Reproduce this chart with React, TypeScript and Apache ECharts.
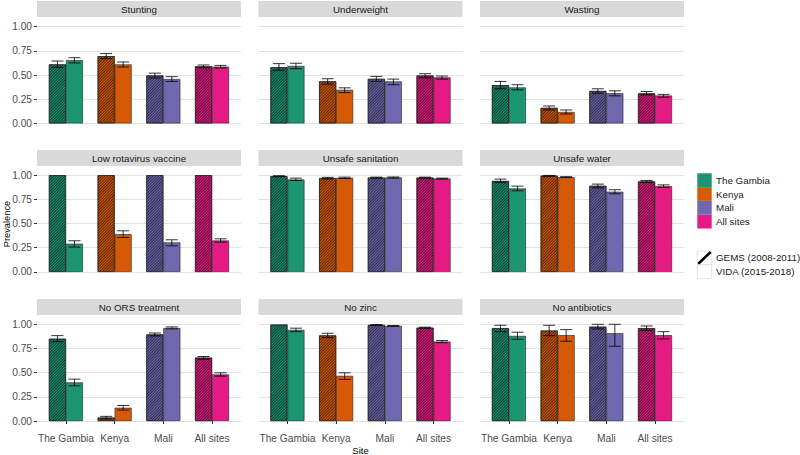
import React, { useEffect, useRef } from "react";
import * as echarts from "echarts";

const sites = ["The Gambia", "Kenya", "Mali", "All sites"];
const panels = [
  "Stunting", "Underweight", "Wasting",
  "Low rotavirus vaccine", "Unsafe sanitation", "Unsafe water",
  "No ORS treatment", "No zinc", "No antibiotics",
];
const siteColors = ["#1B9671", "#D65A06", "#6F68AF", "#E51A85"];
const studies = ["GEMS (2008-2011)", "VIDA (2015-2018)"];

const gemsPrev = [
  [0.61, 0.695, 0.495, 0.59],
  [0.58, 0.435, 0.46, 0.495],
  [0.395, 0.16, 0.335, 0.31],
  [1, 1, 1, 1],
  [0.99, 0.97, 0.975, 0.975],
  [0.94, 0.995, 0.89, 0.935],
  [0.85, 0.035, 0.895, 0.655],
  [0.997, 0.885, 0.993, 0.965],
  [0.96, 0.935, 0.975, 0.96],
];
const gemsLo = [
  [0.58, 0.67, 0.47, 0.576],
  [0.549, 0.406, 0.434, 0.472],
  [0.358, 0.139, 0.3125, 0.295],
  [null, null, null, null],
  [0.985, 0.962, 0.97, 0.97],
  [0.925, 0.99, 0.87, 0.925],
  [0.82, 0.02, 0.88, 0.639],
  [null, 0.862, 0.99, 0.96],
  [0.924, 0.883, 0.952, 0.938],
];
const gemsHi = [
  [0.645, 0.722, 0.52, 0.604],
  [0.618, 0.462, 0.486, 0.514],
  [0.434, 0.18, 0.358, 0.33],
  [null, null, null, null],
  [0.995, 0.978, 0.98, 0.98],
  [0.96, 0.998, 0.908, 0.945],
  [0.883, 0.048, 0.91, 0.667],
  [null, 0.907, 0.997, 0.97],
  [0.99, 0.99, 1.0, 0.983],
];
const vidaPrev = [
  [0.653, 0.61, 0.458, 0.587],
  [0.594, 0.347, 0.434, 0.476],
  [0.372, 0.118, 0.312, 0.288],
  [0.291, 0.39, 0.305, 0.325],
  [0.955, 0.973, 0.976, 0.966],
  [0.863, 0.98, 0.829, 0.887],
  [0.399, 0.137, 0.962, 0.481],
  [0.942, 0.467, 0.983, 0.821],
  [0.88, 0.887, 0.907, 0.887],
];
const vidaLo = [
  [0.625, 0.583, 0.434, 0.573],
  [0.566, 0.319, 0.4, 0.458],
  [0.347, 0.097, 0.285, 0.27],
  [0.257, 0.356, 0.27, 0.308],
  [0.945, 0.966, 0.97, 0.96],
  [0.839, 0.975, 0.808, 0.873],
  [0.364, 0.113, 0.952, 0.464],
  [0.924, 0.43, 0.978, 0.81],
  [0.845, 0.825, 0.773, 0.849],
];
const vidaHi = [
  [0.68, 0.635, 0.483, 0.6],
  [0.622, 0.368, 0.458, 0.49],
  [0.4, 0.139, 0.337, 0.3],
  [0.322, 0.425, 0.332, 0.342],
  [0.97, 0.98, 0.982, 0.97],
  [0.887, 0.985, 0.85, 0.9],
  [0.433, 0.16, 0.973, 0.498],
  [0.96, 0.498, 0.988, 0.832],
  [0.918, 0.945, 1.0, 0.924],
];

const FONT = "'Liberation Sans', Arial, sans-serif";

export default function App() {
  const ref = useRef<HTMLDivElement>(null);
  useEffect(() => {
    document.body.style.margin = "0";
    const chart = echarts.init(ref.current!, null, { renderer: "svg" });

    const rowTop = [26.7, 175.2, 324.3];
    const stripTop = [1, 150, 299];
    const H = 96.7;
    const PW = 204;
    const BW = 194.8;
    const barW = 17;
    const half = barW / 2;
    const cap = 6;

    const decal = {
      symbol: "rect",
      symbolSize: 1,
      dashArrayX: [1, 0],
      dashArrayY: [1, 1],
      rotation: -Math.PI / 4,
      color: "rgba(0,0,0,0.6)",
    };

    const grids: any[] = [];
    const xAxes: any[] = [];
    const yAxes: any[] = [];
    const series: any[] = [];
    const graphics: any[] = [];

    panels.forEach((name, i) => {
      const r = Math.floor(i / 3);
      const c = i % 3;
      const cx = 139 + c * 221.5;
      const pl = cx - PW / 2;
      const top = rowTop[r];
      const bg = 2 * i;
      const bi = 2 * i + 1;

      grids.push({ left: pl, top, width: PW, height: H });
      xAxes.push({ gridIndex: bg, type: "value", min: 0, max: 1, show: false });
      yAxes.push({
        gridIndex: bg,
        type: "value",
        min: 0,
        max: 1,
        interval: 0.25,
        axisLine: { show: false },
        axisTick: { show: c === 0, length: 3, lineStyle: { color: "#333", width: 1 } },
        axisLabel: {
          show: c === 0,
          formatter: (v: number) => v.toFixed(2),
          fontSize: 10.2,
          color: "#4d4d4d",
          margin: 5,
          fontFamily: FONT,
        },
        splitLine: { show: true, lineStyle: { color: "#e2e2e2", width: 1 } },
      });

      grids.push({ left: cx - BW / 2, top, width: BW, height: H });
      xAxes.push({
        gridIndex: bi,
        type: "category",
        data: sites,
        offset: 5,
        axisLine: { show: false },
        axisTick: { show: r === 2, alignWithLabel: true, length: 3, lineStyle: { color: "#333" } },
        axisLabel: {
          show: r === 2,
          interval: 0,
          fontSize: 10.2,
          color: "#4d4d4d",
          margin: 7,
          fontFamily: FONT,
        },
        splitLine: { show: false },
      });
      yAxes.push({ gridIndex: bi, type: "value", min: 0, max: 1, show: false });

      series.push({
        type: "bar",
        name: studies[0],
        xAxisIndex: bi,
        yAxisIndex: bi,
        barWidth: barW,
        barGap: "0%",
        data: gemsPrev[i].map((v, j) => ({
          value: v,
          itemStyle: { color: siteColors[j], borderColor: "#222", borderWidth: 0.6, decal },
        })),
        itemStyle: { decal },
      });
      series.push({
        type: "bar",
        name: studies[1],
        xAxisIndex: bi,
        yAxisIndex: bi,
        barWidth: barW,
        barGap: "0%",
        data: vidaPrev[i].map((v, j) => ({
          value: v,
          itemStyle: { color: siteColors[j], borderColor: "#222", borderWidth: 0.6 },
        })),
      });

      const errData: any[] = [];
      sites.forEach((_, j) => {
        if (gemsLo[i][j] != null) errData.push([j, gemsLo[i][j], gemsHi[i][j], -1]);
        if (vidaLo[i][j] != null) errData.push([j, vidaLo[i][j], vidaHi[i][j], 1]);
      });
      series.push({
        type: "custom",
        xAxisIndex: bi,
        yAxisIndex: bi,
        z: 5,
        clip: false,
        data: errData,
        renderItem: (_p: any, api: any) => {
          const idx = api.value(0);
          const lo = api.value(1);
          const hi = api.value(2);
          const side = api.value(3);
          const pt = api.coord([idx, hi]);
          const pb = api.coord([idx, lo]);
          const x = pt[0] + side * half;
          const st = { stroke: "#000", lineWidth: 0.8 };
          return {
            type: "group",
            children: [
              { type: "line", shape: { x1: x, y1: pt[1], x2: x, y2: pb[1] }, style: st },
              { type: "line", shape: { x1: x - cap, y1: pt[1], x2: x + cap, y2: pt[1] }, style: st },
              { type: "line", shape: { x1: x - cap, y1: pb[1], x2: x + cap, y2: pb[1] }, style: st },
            ],
          };
        },
      });

      graphics.push({
        type: "rect",
        shape: { x: pl, y: stripTop[r], width: PW, height: 16 },
        style: { fill: "#d9d9d9" },
        silent: true,
      });
      graphics.push({
        type: "text",
        x: cx,
        y: stripTop[r] + 8.5,
        style: {
          text: name,
          fontSize: 9.8,
          fill: "#1a1a1a",
          align: "center",
          verticalAlign: "middle",
          fontFamily: FONT,
        },
      });
    });

    graphics.push({
      type: "text",
      x: 7,
      y: 224,
      rotation: Math.PI / 2,
      style: {
        text: "Prevalence",
        fontSize: 9.3,
        fill: "#000",
        align: "center",
        verticalAlign: "middle",
        fontFamily: FONT,
      },
    });
    graphics.push({
      type: "text",
      x: 360.5,
      y: 450,
      style: {
        text: "Site",
        fontSize: 9.5,
        fill: "#000",
        align: "center",
        verticalAlign: "middle",
        fontFamily: FONT,
      },
    });

    const keyX = 697.3;
    const keyW = 14.4;
    const keyH = 13.8;
    sites.forEach((s, j) => {
      const y = 173.3 + j * keyH;
      graphics.push({
        type: "rect",
        shape: { x: keyX, y, width: keyW, height: keyH },
        style: { fill: siteColors[j] },
      });
      graphics.push({
        type: "text",
        x: 716,
        y: y + keyH / 2,
        style: { text: s, fontSize: 9.8, fill: "#1a1a1a", verticalAlign: "middle", fontFamily: FONT },
      });
    });
    studies.forEach((s, j) => {
      const y = 251 + j * keyH;
      graphics.push({
        type: "rect",
        shape: { x: keyX, y, width: keyW, height: keyH },
        style: { fill: "#fff", stroke: "#d0d0d0", lineWidth: 0.6 },
      });
      if (j === 0) {
        graphics.push({
          type: "line",
          shape: { x1: keyX + 1, y1: y + keyH - 1, x2: keyX + keyW - 1, y2: y + 1 },
          style: { stroke: "#000", lineWidth: 2.6 },
        });
      }
      graphics.push({
        type: "text",
        x: 716,
        y: y + keyH / 2,
        style: { text: s, fontSize: 9.8, fill: "#1a1a1a", verticalAlign: "middle", fontFamily: FONT },
      });
    });

    chart.setOption({
      animation: false,
      backgroundColor: "#ffffff",
      textStyle: { fontFamily: FONT },
      grid: grids,
      xAxis: xAxes,
      yAxis: yAxes,
      series,
      graphic: graphics,
    });
    return () => chart.dispose();
  }, []);
  return (
    <div
      ref={ref}
      style={{ width: 800, height: 455, position: "fixed", left: 0, top: 0 }}
    />
  );
}
